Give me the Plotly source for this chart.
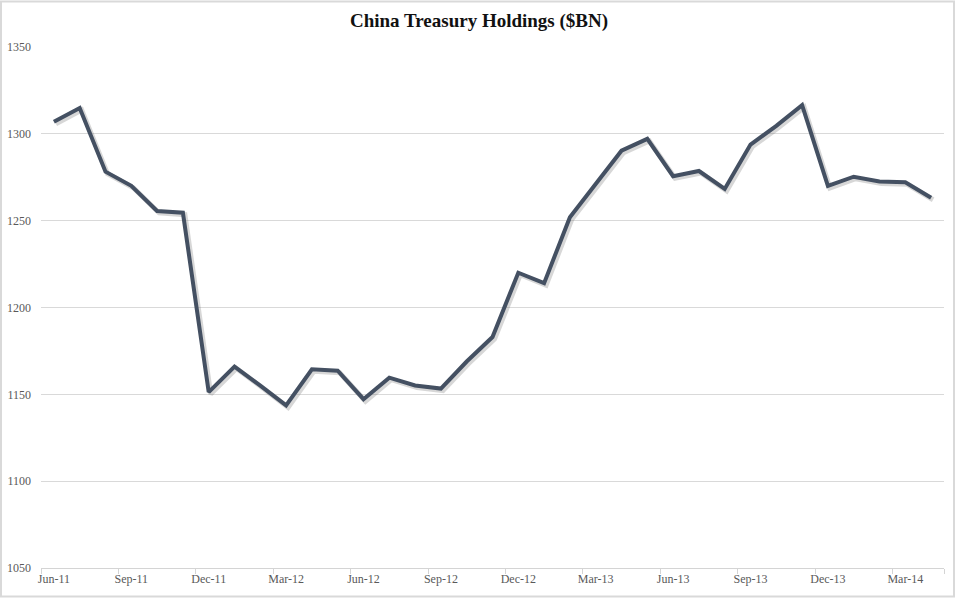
import plotly.graph_objects as go

months = ["Jun-11","Jul-11","Aug-11","Sep-11","Oct-11","Nov-11","Dec-11","Jan-12","Feb-12","Mar-12",
          "Apr-12","May-12","Jun-12","Jul-12","Aug-12","Sep-12","Oct-12","Nov-12","Dec-12","Jan-13",
          "Feb-13","Mar-13","Apr-13","May-13","Jun-13","Jul-13","Aug-13","Sep-13","Oct-13","Nov-13",
          "Dec-13","Jan-14","Feb-14","Mar-14","Apr-14"]
holdings = [1307.0, 1314.9, 1278.2, 1270.1, 1255.6, 1254.6, 1151.3, 1166.0, 1155.0, 1143.6,
            1164.4, 1163.6, 1147.2, 1159.6, 1155.1, 1153.3, 1168.9, 1183.0, 1220.0, 1214.0,
            1252.0, 1271.5, 1290.3, 1297.1, 1275.6, 1278.6, 1268.3, 1293.8, 1304.6, 1316.5,
            1270.0, 1275.3, 1272.6, 1272.1, 1263.2]
tick_labels = ["Jun-11","Sep-11","Dec-11","Mar-12","Jun-12","Sep-12","Dec-12","Mar-13","Jun-13",
               "Sep-13","Dec-13","Mar-14"]
y_ticks = [1050, 1100, 1150, 1200, 1250, 1300, 1350]

W, H = 958, 598
ml, mr, mt, mb = 41, 14, 47, 30
pw, ph = W - ml - mr, H - mt - mb

n = len(months)
xs = list(range(n))
label_pos = [months.index(t) for t in tick_labels]
boundaries = [i - 0.5 for i in range(0, n + 1, 3)] + [n - 0.5]

y_min, y_max = 1050, 1350
# drop-shadow: same data shifted by ~2px right/down via the axis scales
sx = 2 * n / pw
sy = 2 * (y_max - y_min) / ph

fig = go.Figure()
fig.add_trace(go.Scatter(x=[x + sx for x in xs], y=[v - sy for v in holdings], mode="lines",
                         line=dict(color="rgba(110,110,110,0.28)", width=5), hoverinfo="skip",
                         showlegend=False))
fig.add_trace(go.Scatter(x=xs, y=holdings, mode="lines",
                         line=dict(color="#445062", width=4), showlegend=False))

font_serif = "Liberation Serif, Georgia, serif"
fig.update_layout(
    width=W, height=H,
    margin=dict(l=ml, r=mr, t=mt, b=mb, autoexpand=False),
    paper_bgcolor="white", plot_bgcolor="white",
    title=dict(text="<b>China Treasury Holdings ($BN)</b>", x=0.5, xanchor="center",
               y=1 - 20 / H, yanchor="middle",
               font=dict(family=font_serif, size=19, color="#111111")),
    xaxis=dict(automargin=False, range=[-0.5, n - 0.5], tickmode="array",
               tickvals=label_pos, ticktext=tick_labels, ticks="", showgrid=False,
               zeroline=False, showline=True, linecolor="#d4d4d4", linewidth=1,
               tickfont=dict(family=font_serif, size=12, color="#595959"),
               minor=dict(tickmode="array", tickvals=boundaries, ticks="outside",
                          ticklen=5, tickcolor="#d4d4d4", showgrid=False)),
    yaxis=dict(automargin=False, range=[y_min, y_max], tickmode="array", tickvals=y_ticks,
               showgrid=True, gridcolor="#d9d9d9", gridwidth=1, zeroline=False,
               showline=False, ticks="", ticklabelstandoff=9,
               tickfont=dict(family=font_serif, size=12, color="#595959")),
    shapes=[dict(type="rect", xref="paper", yref="paper",
                 x0=(-ml + 1) / pw, x1=1 + (mr - 4) / pw,
                 y0=(-mb + 1.5) / ph, y1=1 + (mt - 1.5) / ph,
                 line=dict(color="#d9d9d9", width=2), fillcolor="rgba(0,0,0,0)", layer="below")],
)

fig.write_html("out.html", config={"displayModeBar": False},
               post_script="document.body.style.margin='0px';document.body.style.overflow='hidden';")
